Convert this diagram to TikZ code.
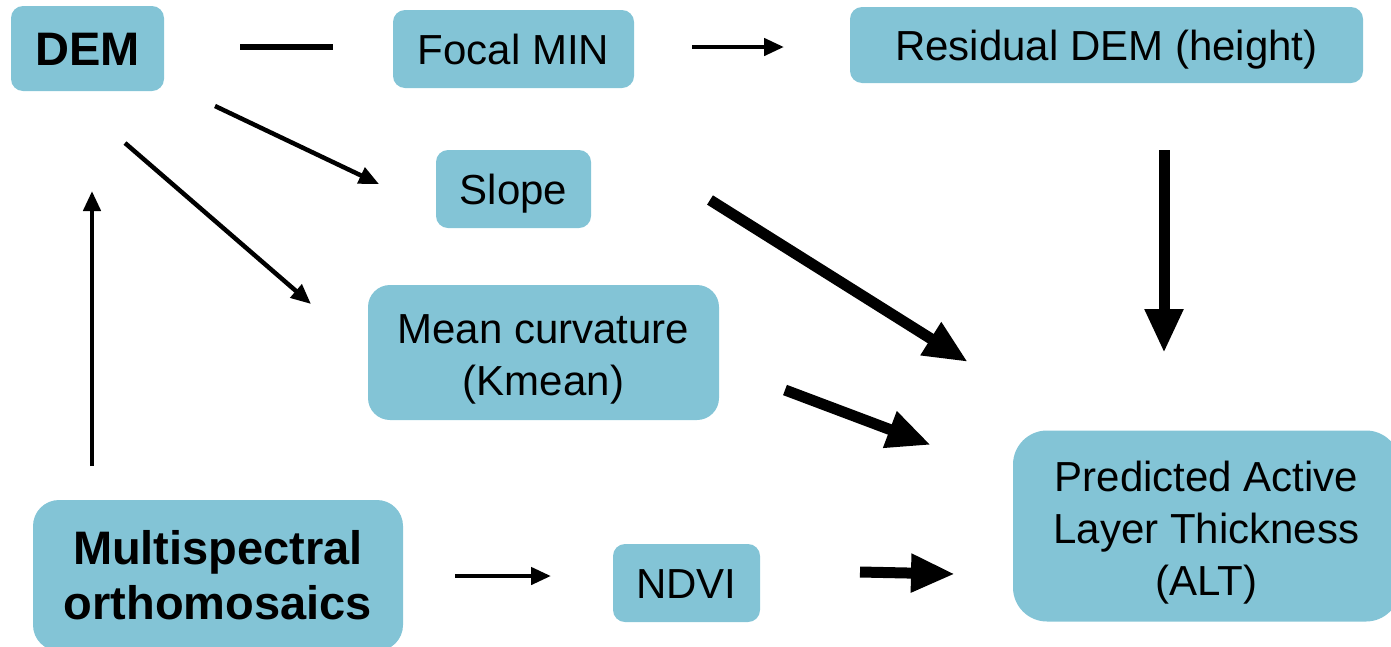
\documentclass[tikz,border=0pt]{standalone}
\usepackage{fontspec}
\setmainfont{Liberation Sans}
\usetikzlibrary{arrows.meta}
\definecolor{boxblue}{HTML}{83C4D6}
\newcommand{\topstrut}{\rule{0pt}{43pt}}
\tikzset{
  mbox/.style={fill=boxblue, draw=none, rounded corners=12pt, inner sep=0pt, align=center, text=black,
    font=\fontsize{42}{52}\selectfont},
  box/.style={mbox, text height=30pt, text depth=0pt},
  boldbox/.style={box, font=\fontsize{47}{55}\selectfont\bfseries, text height=33.7pt},
  mboldbox/.style={mbox, font=\fontsize{47}{55}\selectfont\bfseries},
  thin/.style={line width=4.5pt, -{Triangle[length=20pt,width=17pt]}},
  thick/.style={line width=11pt, -{Triangle[length=44pt,width=36pt]}},
}
\begin{document}
\begin{tikzpicture}[x=1pt,y=-1pt]
\useasboundingbox (0,0) rectangle (1391,646);
\clip (0,0) rectangle (1391,646);
% nodes
\node[boldbox, minimum width=153pt, minimum height=85pt] (dem) at (87.5,48.5) {DEM};
\node[box, minimum width=241pt, minimum height=78pt] (focal) at (513.5,49) {Focal MIN};
\node[box, minimum width=513pt, minimum height=76pt] (resid) at (1106.5,45) {Residual DEM (height)};
\node[box, minimum width=155pt, minimum height=78pt] (slope) at (513.5,189) {Slope};
\node[mbox, rounded corners=22pt, minimum width=351pt, minimum height=135pt] (mean) at (543.5,352.5) {\topstrut Mean curvature\\(Kmean)};
\node[mboldbox, rounded corners=26pt, minimum width=370pt, minimum height=151pt] (multi) at (218,575.5) {Multispectral\\orthomosaics};
\node[box, minimum width=147pt, minimum height=78pt] (ndvi) at (686.5,583) {NDVI};
\node[mbox, rounded corners=34pt, minimum width=387pt, minimum height=191pt] (alt) at (1206.5,526) {\topstrut Predicted Active\\Layer Thickness\\(ALT)};
% connector end points
\coordinate (c1s) at (240,47);  \coordinate (c1e) at (333,47);
\coordinate (c2s) at (692,47);  \coordinate (c2e) at (784,47);
\coordinate (c3s) at (215,106); \coordinate (c3e) at (379,184);
\coordinate (c4s) at (125,143); \coordinate (c4e) at (311,304);
\coordinate (c5s) at (92,466);  \coordinate (c5e) at (92,191);
\coordinate (c6s) at (455,576); \coordinate (c6e) at (551,576);
\coordinate (c7s) at (710,200); \coordinate (c7e) at (968,362);
\coordinate (c8s) at (785,390); \coordinate (c8e) at (931,445);
\coordinate (c9s) at (860,572); \coordinate (c9e) at (955,574);
\coordinate (c10s) at (1164,150); \coordinate (c10e) at (1164,353);
% connectors
\draw[line width=6pt] (c1s) -- (c1e);
\draw[thin] (c2s) -- (c2e);
\draw[thin] (c3s) -- (c3e);
\draw[thin] (c4s) -- (c4e);
\draw[thin] (c5s) -- (c5e);
\draw[thin] (c6s) -- (c6e);
\draw[thick] (c7s) -- (c7e);
\draw[thick] (c8s) -- (c8e);
\draw[thick] (c9s) -- (c9e);
\draw[thick] (c10s) -- (c10e);
\end{tikzpicture}
\end{document}
